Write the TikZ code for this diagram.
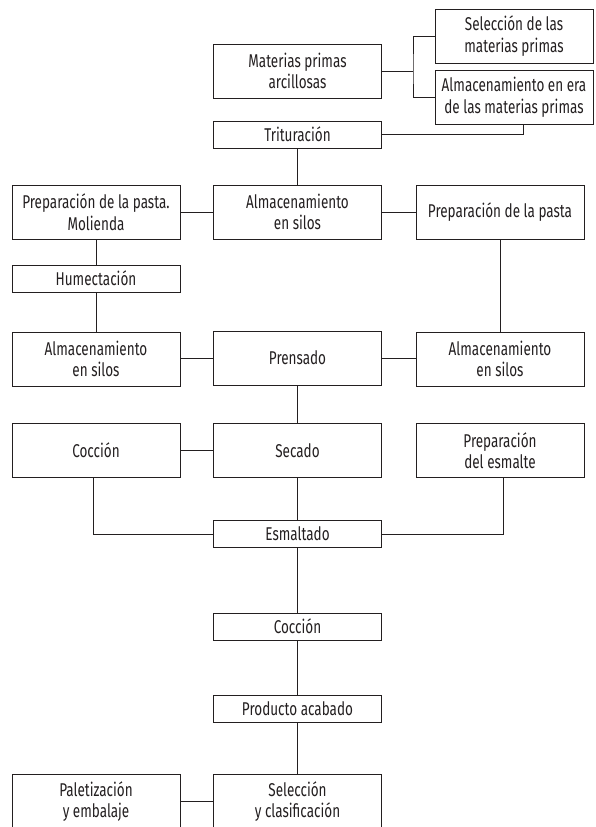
\documentclass[tikz,border=0pt]{standalone}
\usepackage{fontspec}
\setmainfont{Fira Sans}[FakeStretch=0.73]
\usepackage{tikz}
\usetikzlibrary{positioning}
\definecolor{lineblack}{RGB}{35, 31, 32}
\tikzset{
    box/.style={rectangle, draw=lineblack, line width=1pt, inner sep=0pt, align=center,
        font=\fontsize{18.5}{21.5}\selectfont, text=lineblack},
    colbox/.style={box, minimum width=168pt, minimum height=54pt},
    lowbox/.style={box, minimum width=168pt, minimum height=27pt},
    sidebox/.style={box, minimum width=158pt, minimum height=54pt},
    link/.style={draw=lineblack, line width=1pt}
}

\begin{document}
\begin{tikzpicture}[x=1pt, y=-1pt]
    \useasboundingbox (0,0) rectangle (595,827);
    % top: raw materials
    \node[colbox] (mat) at (297.5,71) {Materias primas\\arcillosas};
    \node[sidebox] (selmat) at (514,36) {Selección de las\\materias primas};
    \node[sidebox] (almera) at (514,97.5) {Almacenamiento en era\\de las materias primas};
    \node[lowbox] (trit) at (297.5,134.5) {Trituración};
    \coordinate (fork) at (413,71);
    \coordinate (eraout) at (523,125);
    % paste preparation
    \node[colbox] (almc) at (297.5,212) {Almacenamiento\\en silos};
    \node[colbox] (prepmol) at (96,212) {Preparación de la pasta.\\Molienda};
    \node[colbox] (prepp) at (500,212) {Preparación de la pasta};
    \node[lowbox] (hum) at (96,278.5) {Humectación};
    \node[colbox] (alml) at (96,359) {Almacenamiento\\en silos};
    \node[colbox] (pren) at (297.5,358) {Prensado};
    \node[colbox] (almr) at (500,359) {Almacenamiento\\en silos};
    % drying and glazing
    \node[colbox] (coccl) at (96,450.5) {Cocción};
    \node[colbox] (sec) at (297.5,450.5) {Secado};
    \node[colbox] (prepesm) at (500,450.5) {Preparación\\del esmalte};
    \node[lowbox] (esm) at (297.5,534) {Esmaltado};
    \node[lowbox] (cocc) at (297.5,626.5) {Cocción};
    \node[lowbox] (prod) at (297.5,709) {Producto acabado};
    \node[colbox] (selcl) at (297.5,801.5) {Selección\\y clasificación};
    \node[colbox] (palet) at (96,801.5) {Paletización\\y embalaje};

    \draw[link] (mat) -- (fork);
    \draw[link] (selmat.west) -| (fork) |- (almera.west);
    \draw[link] (trit.east) -| (eraout);
    \draw[link] (trit) -- (almc);
    \draw[link] (prepmol) -- (almc);
    \draw[link] (almc) -- (prepp);
    \draw[link] (prepmol) -- (hum);
    \draw[link] (hum) -- (alml);
    \draw[link] (prepp) -- (almr);
    \draw[link] (alml.east |- pren.west) -- (pren.west);
    \draw[link] (pren.east) -- (almr.west |- pren.east);
    \draw[link] (pren) -- (sec);
    \draw[link] (coccl) -- (sec);
    \draw[link] (sec) -- (esm);
    \draw[link] ([xshift=-3pt]coccl.south) |- (esm.west);
    \draw[link] ([xshift=3pt]prepesm.south) |- (esm.east);
    \draw[link] (esm) -- (cocc);
    \draw[link] (cocc) -- (prod);
    \draw[link] (prod) -- (selcl);
    \draw[link] (palet) -- (selcl);
\end{tikzpicture}
\end{document}
